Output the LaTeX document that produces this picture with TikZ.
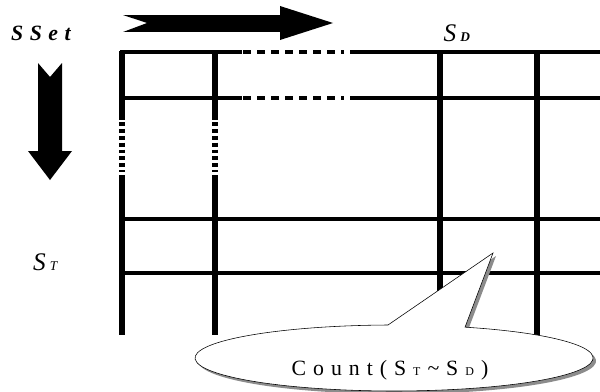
\documentclass[tikz,border=0pt]{standalone}
\usepackage{fontspec}
\setmainfont{Liberation Serif}
\usetikzlibrary{shadows}
\definecolor{shade}{RGB}{140,140,140}
\newcommand\smallsub[1]{\kern5pt{\fontsize{8.5}{10}\selectfont#1}\kern5pt}

\begin{document}
\begin{tikzpicture}[
  vline/.style={line width=4.2pt},
  hline/.style={line width=2.8pt},
  topline/.style={line width=2.5pt},
  vdash/.style={line width=4.2pt,dash pattern=on 2.8pt off 2.1pt},
  hdash/.style={line width=2.5pt,dash pattern=on 5.7pt off 4.3pt},
  bigarr/.style={fill=black,draw=none},
  setlbl/.style={font=\fontsize{15.5}{18}\selectfont\itshape,inner sep=0pt,anchor=base},
  sublbl/.style={setlbl,font=\fontsize{18}{21}\selectfont\itshape},
  callout/.style={fill=white,draw=black,thin,
                  drop shadow={shadow xshift=0.075cm,shadow yshift=-0.075cm,fill=shade,opacity=1}},
  cntlbl/.style={font=\fontsize{15.5}{18}\selectfont\addfontfeature{LetterSpace=32},inner sep=0pt,anchor=base}]

  \useasboundingbox (0,0) rectangle (15,9.775);

  % direction arrows
  \path[bigarr] (3.075,9.4) -- (3.675,9.2) -- (3.075,8.975) -- (7.0,8.975) -- (7.0,8.775)
    -- (8.325,9.2) -- (7.0,9.625) -- (7.0,9.4) -- cycle;
  \path[bigarr] (0.95,8.2) -- (1.25,7.85) -- (1.55,8.2) -- (1.55,6.0) -- (1.8,6.0)
    -- (1.25,5.275) -- (0.7,6.0) -- (0.95,6.0) -- cycle;

  % rows
  \draw[topline] (3.0,8.475) -- (6.05,8.475); \draw[hdash] (6.075,8.475) -- (8.6,8.475);
  \draw[topline] (8.75,8.475) -- (15,8.475);
  \draw[topline] (3.05,7.325) -- (6.05,7.325); \draw[hdash] (6.075,7.325) -- (8.6,7.325);
  \draw[topline] (8.75,7.325) -- (15,7.325);
  \draw[hline] (3.05,4.3) -- (15,4.3);
  \draw[hline] (3.05,2.95) -- (15,2.95);

  % columns
  \draw[vline] (3.05,8.5) -- (3.05,6.775); \draw[vdash] (3.05,6.725) -- (3.05,5.475);
  \draw[vline] (3.05,5.4) -- (3.05,1.4);
  \draw[vline] (5.375,8.5) -- (5.375,6.775); \draw[vdash] (5.375,6.725) -- (5.375,5.475);
  \draw[vline] (5.375,5.4) -- (5.375,1.4);
  \draw[vline] (11.0,8.5) -- (11.0,1.4);
  \draw[vline] (13.425,8.5) -- (13.425,1.4);

  % labels
  \node[setlbl] (sset) at (1.025,8.75) {\bfseries\addfontfeature{LetterSpace=30}SSet};
  \node[sublbl] (sd) at (11.42,8.725) {S\kern3pt{\fontsize{9.5}{10}\selectfont\bfseries D}};
  \node[sublbl] (st) at (1.13,3.025) {S\kern3pt{\fontsize{9.5}{10}\selectfont T}};

  % callout
  \path[callout] (9.7,1.65) -- (12.325,3.45) -- (11.626,1.596)
    arc[start angle=69.1,end angle=-268.3,x radius=4.975cm,y radius=0.825cm] -- cycle;
  \node[cntlbl] (cnt) at (9.75,0.4)
    {Count(S\smallsub{T}\textasciitilde S\smallsub{D})};
\end{tikzpicture}
\end{document}
